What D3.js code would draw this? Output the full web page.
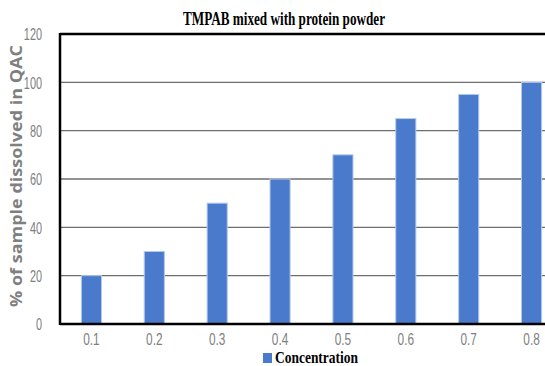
<!DOCTYPE html>
<html>
<head>
<meta charset="utf-8">
<script src="https://cdn.jsdelivr.net/npm/d3@7"></script>
<style>
  html, body { margin: 0; padding: 0; background: #fff; }
  svg { display: block; }
  .tick text { font-family: "Liberation Sans", Arial, sans-serif; fill: #808080; }
</style>
</head>
<body>
<svg id="chart" width="545" height="366"></svg>
<script>
// Concentration levels and the share of sample dissolved at each
const concentrations = ["0.1", "0.2", "0.3", "0.4", "0.5", "0.6", "0.7", "0.8"];
const dissolved = [20, 30, 50, 60, 70, 85, 95, 100];
const yTicks = [0, 20, 40, 60, 80, 100, 120];
const titleText = "TMPAB mixed with protein powder";
const yLabelText = "% of sample dissolved in QAC";
const legendText = "Concentration";

const svg = d3.select("#chart");
const W = 545, H = 366;
const plot = { left: 60, top: 34, bottom: 324, right: 563 };

const x = d3.scaleBand()
  .domain(concentrations)
  .range([plot.left, plot.right])
  .paddingInner(0.68)
  .paddingOuter(0.34);

const y = d3.scaleLinear().domain([0, 120]).range([plot.bottom, plot.top]);

// horizontal grid lines
svg.append("g")
  .selectAll("line")
  .data(yTicks.filter(t => t > 0 && t < 120))
  .join("line")
  .attr("x1", plot.left).attr("x2", W)
  .attr("y1", d => y(d)).attr("y2", d => y(d))
  .attr("stroke", "#6e6e6e").attr("stroke-width", 1.3);

// bars
svg.append("g")
  .selectAll("rect")
  .data(concentrations.map((c, i) => ({ c, v: dissolved[i] })))
  .join("rect")
  .attr("x", d => x(d.c))
  .attr("y", d => y(d.v))
  .attr("width", x.bandwidth())
  .attr("height", d => y(0) - y(d.v))
  .attr("fill", "#4a7acb")
  .attr("stroke", "#b5c9ec")
  .attr("stroke-width", 1);

// frame: top, left and bottom borders
svg.append("line").attr("x1", plot.left).attr("x2", W).attr("y1", plot.top).attr("y2", plot.top)
  .attr("stroke", "#000").attr("stroke-width", 2.5);
svg.append("line").attr("x1", plot.left).attr("x2", plot.left).attr("y1", plot.top - 1).attr("y2", plot.bottom + 1)
  .attr("stroke", "#000").attr("stroke-width", 2.5);
svg.append("line").attr("x1", plot.left).attr("x2", W).attr("y1", plot.bottom).attr("y2", plot.bottom)
  .attr("stroke", "#000").attr("stroke-width", 2.5);

// y axis labels (narrowed glyphs)
const yAxis = svg.append("g")
  .attr("transform", `translate(${plot.left - 18},0)`)
  .call(d3.axisLeft(y).tickValues(yTicks).tickSize(0).tickPadding(0));
yAxis.select(".domain").remove();
yAxis.selectAll("text").attr("font-size", 17).attr("dy", "0.35em")
  .attr("transform", "scale(0.64,1)");

// x axis labels (narrowed glyphs)
const xAxis = svg.append("g")
  .attr("transform", `translate(0,${plot.bottom + 10})`)
  .call(d3.axisBottom(x).tickSize(0).tickPadding(0));
xAxis.select(".domain").remove();
xAxis.selectAll("text").attr("font-size", 16).attr("dy", "0.71em")
  .attr("transform", "scale(0.74,1)");

// title
svg.append("text")
  .attr("x", 284).attr("y", 25)
  .attr("text-anchor", "middle")
  .attr("font-family", "Liberation Serif, serif")
  .attr("font-weight", "bold")
  .attr("font-size", 18)
  .attr("textLength", 202).attr("lengthAdjust", "spacingAndGlyphs")
  .text(titleText);

// y axis title
svg.append("text")
  .attr("transform", `translate(22,${(45 + 307) / 2}) rotate(-90)`)
  .attr("text-anchor", "middle")
  .attr("font-family", "Open Sans, sans-serif")
  .attr("font-weight", "bold")
  .attr("font-size", 16)
  .attr("fill", "#7f7f7f")
  .attr("textLength", 262).attr("lengthAdjust", "spacingAndGlyphs")
  .text(yLabelText);

// legend
svg.append("rect")
  .attr("x", 263).attr("y", 353).attr("width", 9).attr("height", 10)
  .attr("fill", "#4a7acb");
svg.append("text")
  .attr("x", 275).attr("y", 363)
  .attr("font-family", "Liberation Serif, serif")
  .attr("font-weight", "bold")
  .attr("font-size", 16)
  .attr("textLength", 83).attr("lengthAdjust", "spacingAndGlyphs")
  .text(legendText);
</script>
</body>
</html>
